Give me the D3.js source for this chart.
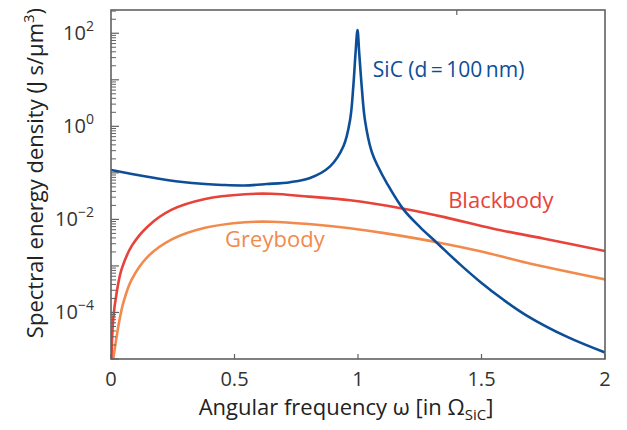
<!DOCTYPE html>
<html>
<head>
<meta charset="utf-8">
<script src="https://cdn.jsdelivr.net/npm/d3@7"></script>
<style>
  body { margin: 0; background: #fff; }
  text { font-family: "Open Sans", "Noto Sans", sans-serif; }
</style>
</head>
<body>
<div id="chart"></div>
<script>
// angular frequency (in units of Omega_SiC) and spectral energy density
var sicOmega = [0, 0.09, 0.178, 0.28, 0.381, 0.45, 0.54, 0.63, 0.725, 0.806, 0.887, 0.941, 0.968, 0.981, 0.990, 0.998,
                1.005, 1.015, 1.028, 1.055, 1.08, 1.116, 1.184, 1.251, 1.319, 1.413, 1.494, 1.589, 1.683, 1.845, 2.0];
var sicValues = [0.115, 0.0933, 0.0776, 0.0646, 0.0575, 0.0550, 0.0537, 0.0575, 0.0631, 0.0776, 0.138, 0.372, 1.38, 7.24, 37.2, 117,
                 37.2, 7.24, 1.38, 0.290, 0.140, 0.0611, 0.0164, 0.00684, 0.00316, 0.00108, 4.59e-4, 1.87e-4, 8.59e-5, 3.02e-5, 1.38e-5];

var blackOmega = [0.001, 0.003, 0.009, 0.023, 0.043, 0.084, 0.151, 0.246, 0.381, 0.543, 0.65, 0.8, 0.968, 1.184, 1.35, 1.548, 1.75, 2.0];
var blackValues = [6.3e-6, 1.62e-5, 7.24e-5, 2.69e-4, 8.51e-4, 2.69e-3, 7.24e-3, 1.62e-2, 2.75e-2, 3.47e-2, 3.55e-2, 3.09e-2, 2.57e-2, 1.70e-2, 1.12e-2, 6.31e-3, 3.89e-3, 2.09e-3];

var greyOmega = [0.006, 0.013, 0.03, 0.05, 0.084, 0.151, 0.246, 0.381, 0.543, 0.65, 0.8, 0.968, 1.1, 1.319, 1.5, 1.683, 2.0];
var greyValues = [7.9e-6, 1.38e-5, 5.13e-5, 1.62e-4, 5.13e-4, 1.62e-3, 3.72e-3, 6.61e-3, 8.71e-3, 8.91e-3, 7.94e-3, 6.46e-3, 5.13e-3, 3.24e-3, 2.04e-3, 1.17e-3, 5.13e-4];

// tick labels
var xTicks = [0, 0.5, 1, 1.5, 2];
var xTickLabels = ["0", "0.5", "1", "1.5", "2"];
var yLabelExps = [2, 0, -2, -4];

var W = 627, H = 430;
var margin = { top: 10, right: 22, bottom: 71, left: 111 },
    width = W - margin.left - margin.right,
    height = H - margin.top - margin.bottom;

var blue = "#0d4e98", red = "#e8433a", orange = "#f28a4c", axisCol = "#616161";

var svg = d3.select("#chart").append("svg")
    .attr("width", W).attr("height", H);
var g = svg.append("g")
    .attr("transform", "translate(" + margin.left + "," + margin.top + ")");

var x = d3.scaleLinear().domain([0, 2]).range([0, width]);
var y = d3.scaleLog().domain([1e-5, Math.pow(10, 2.5)]).range([height, 0]);

// clip for curves
g.append("clipPath").attr("id", "clip")
  .append("rect").attr("width", width).attr("height", height);

function zip(a, b) { return a.map(function (d, i) { return [d, b[i]]; }); }

var line = d3.line()
    .curve(d3.curveCatmullRom.alpha(0.5))
    .x(function (d) { return x(d[0]); })
    .y(function (d) { return y(d[1]); });

var series = [
  { data: zip(greyOmega, greyValues), color: orange },
  { data: zip(blackOmega, blackValues), color: red },
  { data: zip(sicOmega, sicValues), color: blue }
];
g.append("g").attr("clip-path", "url(#clip)")
  .selectAll("path").data(series).enter().append("path")
    .attr("d", function (d) { return line(d.data); })
    .attr("fill", "none")
    .attr("stroke", function (d) { return d.color; })
    .attr("stroke-width", 2.6)
    .attr("stroke-linecap", "round")
    .attr("stroke-linejoin", "round");

// box
g.append("rect")
    .attr("width", width).attr("height", height)
    .attr("fill", "none").attr("stroke", axisCol).attr("stroke-width", 1.6);

// y ticks: majors each decade, minors 2..9
var majors = d3.range(-5, 3);
var minors = [];
majors.forEach(function (k) {
  for (var m = 2; m <= 9; m++) {
    var v = m * Math.pow(10, k);
    if (v < y.domain()[1]) minors.push(v);
  }
});
g.selectAll(".ymaj").data(majors).enter().append("line")
    .attr("x1", 0).attr("x2", 8)
    .attr("y1", function (d) { return y(Math.pow(10, d)); })
    .attr("y2", function (d) { return y(Math.pow(10, d)); })
    .attr("stroke", axisCol).attr("stroke-width", 1.2);
g.selectAll(".ymin").data(minors).enter().append("line")
    .attr("x1", 0).attr("x2", 5)
    .attr("y1", function (d) { return y(d); })
    .attr("y2", function (d) { return y(d); })
    .attr("stroke", axisCol).attr("stroke-width", 1);

// y tick labels 10^k
var yl = g.selectAll(".ylab").data(yLabelExps).enter().append("text")
    .attr("x", -17)
    .attr("y", function (d) { return y(Math.pow(10, d)) + 7; })
    .attr("text-anchor", "end")
    .attr("fill", "#333")
    .style("font-size", "20px");
yl.append("tspan").text("10");
yl.append("tspan").attr("dy", -9).style("font-size", "14px")
    .text(function (d) { return d < 0 ? "\u2212" + (-d) : d; });

// x ticks (inward) and labels
g.selectAll(".xt").data(xTicks).enter().append("line")
    .attr("x1", function (d) { return x(d); }).attr("x2", function (d) { return x(d); })
    .attr("y1", height).attr("y2", height - 5)
    .attr("stroke", axisCol).attr("stroke-width", 1.2);
g.selectAll(".xl").data(xTicks).enter().append("text")
    .attr("x", function (d) { return x(d); })
    .attr("y", height + 27)
    .attr("text-anchor", "middle")
    .attr("fill", "#333")
    .style("font-size", "20px")
    .text(function (d, i) { return xTickLabels[i]; });

// single tick on the top edge
g.append("line")
    .attr("x1", x(1.4)).attr("x2", x(1.4))
    .attr("y1", 0).attr("y2", 5)
    .attr("stroke", axisCol).attr("stroke-width", 1.2);

// axis titles
var xt = g.append("text")
    .attr("x", width / 2 - 12)
    .attr("y", height + 56)
    .attr("text-anchor", "middle")
    .attr("fill", "#222")
    .style("font-size", "22px");
xt.append("tspan").text("Angular frequency \u03c9 [in \u03a9");
xt.append("tspan").attr("dy", 5).style("font-size", "15px").text("SiC");
xt.append("tspan").attr("dy", -5).text("]");

var ytl = svg.append("text")
    .attr("transform", "translate(43," + 173 + ") rotate(-90)")
    .attr("text-anchor", "middle")
    .attr("fill", "#222")
    .style("font-size", "22px");
ytl.append("tspan").text("Spectral energy density (J s/\u00b5m");
ytl.append("tspan").attr("dy", -9).style("font-size", "15px").text("3");
ytl.append("tspan").attr("dy", 9).text(")");

// curve labels
g.append("text").attr("x", x(1.06)).attr("y", y(Math.pow(10, 1.05)))
    .attr("fill", blue).style("font-size", "21px")
    .text("SiC (d\u2009=\u2009100\u2009nm)");
g.append("text").attr("x", x(1.365)).attr("y", y(Math.pow(10, -1.75)))
    .attr("fill", red).style("font-size", "22px")
    .text("Blackbody");
g.append("text").attr("x", x(0.462)).attr("y", y(Math.pow(10, -2.6)))
    .attr("fill", orange).style("font-size", "22px")
    .text("Greybody");
</script>
</body>
</html>
